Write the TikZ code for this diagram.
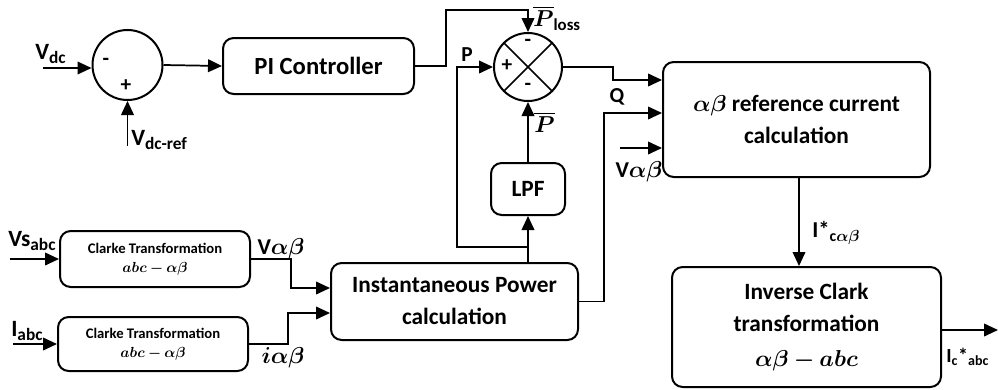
\documentclass[tikz,border=0pt]{standalone}
\usepackage{amsmath,bm}
\usepackage{fontspec}
\setmainfont{Carlito}
\usetikzlibrary{arrows.meta,calc}
\begin{document}
\begin{tikzpicture}[x=0.75pt,y=-0.75pt,
  blk/.style={draw,line width=1.5pt,rounded corners=8pt,align=center,inner sep=0pt,font=\fontsize{17.5}{24}\selectfont\bfseries},
  sm/.style={blk,font=\fontsize{11}{14.5}\selectfont\bfseries},
  sumc/.style={draw,circle,line width=1.5pt,inner sep=0pt},
  arr/.style={line width=1.3pt,-{Triangle[length=10.5pt,width=9.5pt]}},
  ln/.style={line width=1.3pt},
  lbl/.style={inner sep=0pt,font=\fontsize{16}{18}\selectfont\bfseries},
  sgn/.style={inner sep=0pt,font=\fontsize{16}{17}\selectfont\bfseries}]
\useasboundingbox (0,0) rectangle (998,389);
% blocks
\node[sumc,minimum size=52.5pt] (s1) at (127.5,65) {};
\node[blk,minimum width=143.25pt,minimum height=42pt,font=\fontsize{18.5}{22}\selectfont\bfseries] (pi) at (318.5,66) {PI Controller};
\node[sumc,minimum size=51pt] (s2) at (528,67) {};
\node[blk,minimum width=55.5pt,minimum height=39pt] (lpf) at (528,189) {LPF};
\node[blk,minimum width=200.25pt,minimum height=86.25pt] (ref) at (796.5,119.5) {$\bm{\alpha\beta}$ reference current\\calculation};
\node[blk,minimum width=201.75pt,minimum height=90pt] (inv) at (806.5,327) {Inverse Clark\\transformation\\[2pt]{\fontsize{19}{21}\selectfont$\bm{\alpha\beta-abc}$}};
\node[sm,minimum width=142.5pt,minimum height=42pt] (c1) at (155,259) {Clarke Transformation\\$\bm{abc-\alpha\beta}$};
\node[sm,minimum width=142.5pt,minimum height=40.5pt] (c2) at (153,344) {Clarke Transformation\\$\bm{abc-\alpha\beta}$};
\node[blk,minimum width=185.25pt,minimum height=57.75pt] (inst) at (454.5,301.5) {Instantaneous Power\\calculation};
% X in second summer
\draw[ln] (s2.north west) -- (s2.south east);
\draw[ln] (s2.north east) -- (s2.south west);
% free ends
\coordinate (vdcin) at (43,68);
\coordinate (vref) at (127.5,146);
\coordinate (br) at (528,247);
\coordinate (vab) at (620,148);
\coordinate (out) at (998,330);
\coordinate (vsin) at (10,259);
\coordinate (iin) at (13,344);
% connectors
\draw[arr] (vdcin) -- (vdcin -| s1.west);
\draw[arr] (vref) -- (s1.south);
\draw[arr] (s1.east) -- (pi.west);
\draw[arr] (pi.east) -- ++(31,0) -- ++(0,-56) -| (s2.north);
\draw[arr] (br) -- (lpf.south);
\draw[ln] (inst.north -| br) -- (br);
\draw[arr] (br) -| ($(s2.west)+(-36,0)$) -- (s2.west);
\draw[arr] (lpf.north) -- (s2.south);
\draw[arr] (s2.east) -- ++(50,0) |- ($(ref.west)+(0,-39.5)$);
\draw[arr] (inst.east) -- ++(25,0) |- ($(ref.west)+(0,-6.5)$);
\draw[arr] (vab) -- (vab -| ref.west);
\draw[arr] (ref.south -| 799,0) -- (inv.north -| 799,0);
\draw[arr] (inv.east |- out) -- (out);
\draw[arr] (vsin) -- (c1.west);
\draw[arr] (iin) -- (c2.west);
\draw[arr] (c1.east) -- ++(40,0) |- ($(inst.west)+(0,-13.5)$);
\draw[arr] (c2.east) -- ++(39,0) |- ($(inst.west)+(0,11.5)$);
% signs
\node[sgn] (m1) at (106,62) {-};
\node[sgn] (p1) at (126,86) {+};
\node[sgn] (m2) at (528,43) {-};
\node[sgn] (p2) at (507,66) {+};
\node[sgn] (m3) at (528,87) {-};
% labels
\node[lbl,anchor=south west] (lvdc) at (35,64) {\fontsize{17.5}{18}\selectfont V\textsubscript{\fontsize{13}{14}\selectfont dc}};
\node[lbl,anchor=north west] (lvref) at (131,130) {\fontsize{17.5}{18}\selectfont V\textsubscript{\fontsize{13}{14}\selectfont dc-ref}};
\node[lbl] (lP) at (467,55) {P};
\node[lbl,anchor=west] (lploss) at (533,18) {\fontsize{18}{19}\selectfont$\overline{\bm{P}}_{\mathbf{loss}}$};
\node[lbl,anchor=west] (lpbar) at (534,122) {\fontsize{18}{19}\selectfont$\overline{\bm{P}}$};
\node[lbl] (lQ) at (617,97) {Q};
\node[lbl] (lvab1) at (639,172) {\fontsize{17}{18}\selectfont V$\bm{\alpha\beta}$};
\node[lbl] (lvab2) at (281,249) {\fontsize{17}{18}\selectfont V$\bm{\alpha\beta}$};
\node[lbl] (liab) at (283,358) {\fontsize{19}{20}\selectfont$\bm{i\alpha\beta}$};
\node[lbl,anchor=west] (lic) at (812,233) {\fontsize{17}{18}\selectfont I*\textsubscript{c$\bm{\alpha\beta}$}};
\node[lbl,anchor=west] (lvs) at (8,241) {\fontsize{17.5}{18}\selectfont Vs\textsubscript{\fontsize{13}{14}\selectfont abc}};
\node[lbl,anchor=west] (lia) at (11,331) {\fontsize{17.5}{18}\selectfont I\textsubscript{\fontsize{13}{14}\selectfont abc}};
\node[lbl,anchor=west] (lico) at (946,357) {\fontsize{15}{16}\selectfont I\textsubscript{c}*\textsubscript{abc}};
\end{tikzpicture}
\end{document}
